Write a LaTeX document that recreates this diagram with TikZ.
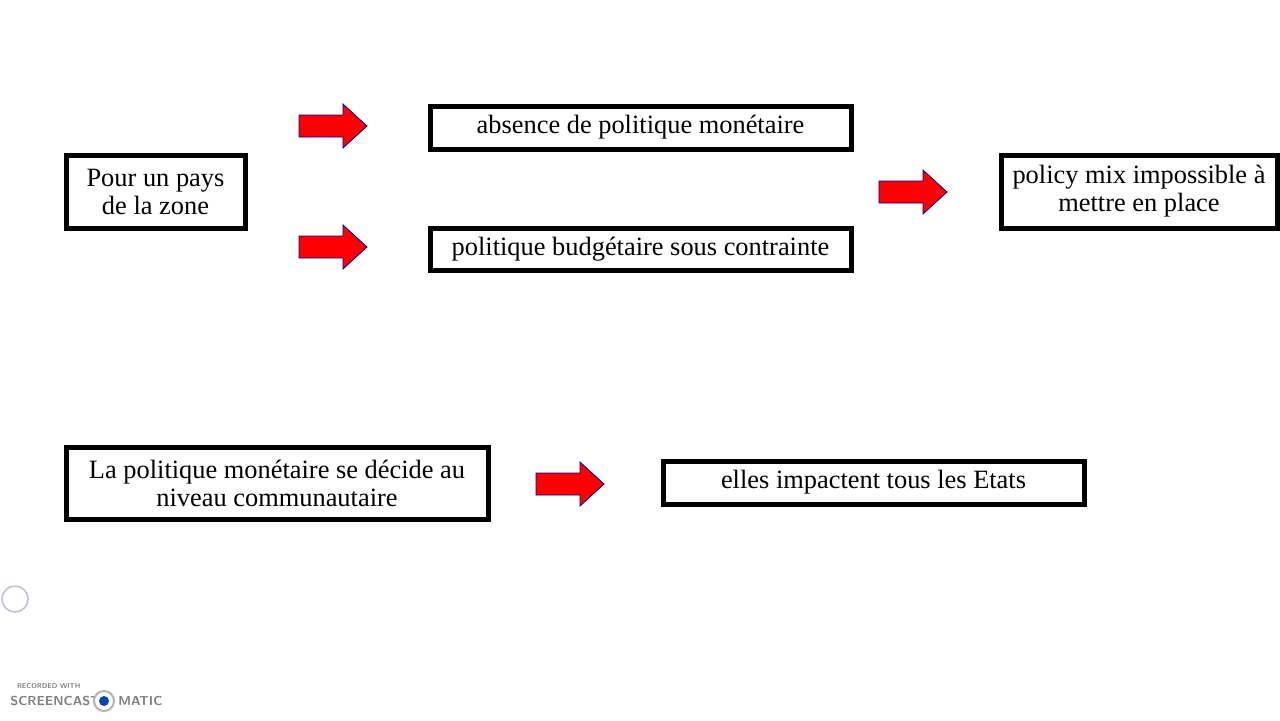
\documentclass[tikz,border=0pt]{standalone}
\usepackage{fontspec}
\setmainfont{Liberation Serif}
\usetikzlibrary{positioning}
\tikzset{
	box/.style={draw=black, line width=2.5pt, align=center, font=\fontsize{13.2}{14}\selectfont, inner sep=0pt},
	redarrow/.pic={
		\draw[draw=blue!60!black, line width=0.4pt, fill=red] (0,-11)--(44,-11)--(44,-22)--(68,0)--(44,22)--(44,11)--(0,11)--cycle;
	}
}
\begin{document}
\begin{tikzpicture}[x=0.5pt,y=-0.5pt]

	\fill[white] (0,0) rectangle (1280,720);

	\node[box, minimum width=89.5pt, minimum height=36.5pt] (pays) at (155.5,191.5) {Pour un pays\\de la zone};
	\node[box, minimum width=210.5pt, minimum height=21.5pt] (absence) at (640.5,127.5) {absence de politique monétaire};
	\node[box, minimum width=210.5pt, minimum height=21pt] (budget) at (640.5,249) {politique budgétaire sous contrainte};
	\node[box, minimum width=138pt, minimum height=36.5pt] (mix) at (1139,191.5) {policy mix impossible à\\mettre en place};
	\node[box, minimum width=211pt, minimum height=36pt] (niveau) at (277,483) {La politique monétaire se décide au\\niveau communautaire};
	\node[box, minimum width=210.5pt, minimum height=21.5pt] (etats) at (873.5,482.5) {elles impactent tous les Etats};

	\pic at (299,126) {redarrow};
	\pic at (299,247) {redarrow};
	\pic at (879,192) {redarrow};
	\pic at (536,484) {redarrow};

	% recording overlay
	\draw[blue!20!gray!40, line width=0.8pt] (15,599) circle (6.5pt);
	\node[anchor=west, font=\sffamily\bfseries\fontsize{3.5}{4}\selectfont, text=gray] (rec) at (10,686) {RECORDED WITH};
	\node[anchor=west, font=\sffamily\bfseries\fontsize{6.5}{7}\selectfont, text=gray, inner sep=0pt] (sc) at (10,701) {SCREENCAST};
	\draw[gray!60, fill=white, line width=1pt] (104,701) circle (5pt);
	\fill[blue!60!cyan!70!black] (104,701) circle (2.5pt);
	\node[anchor=west, font=\sffamily\bfseries\fontsize{6.5}{7}\selectfont, text=gray, inner sep=0pt] (matic) at (118,701) {MATIC};

\end{tikzpicture}
\end{document}
